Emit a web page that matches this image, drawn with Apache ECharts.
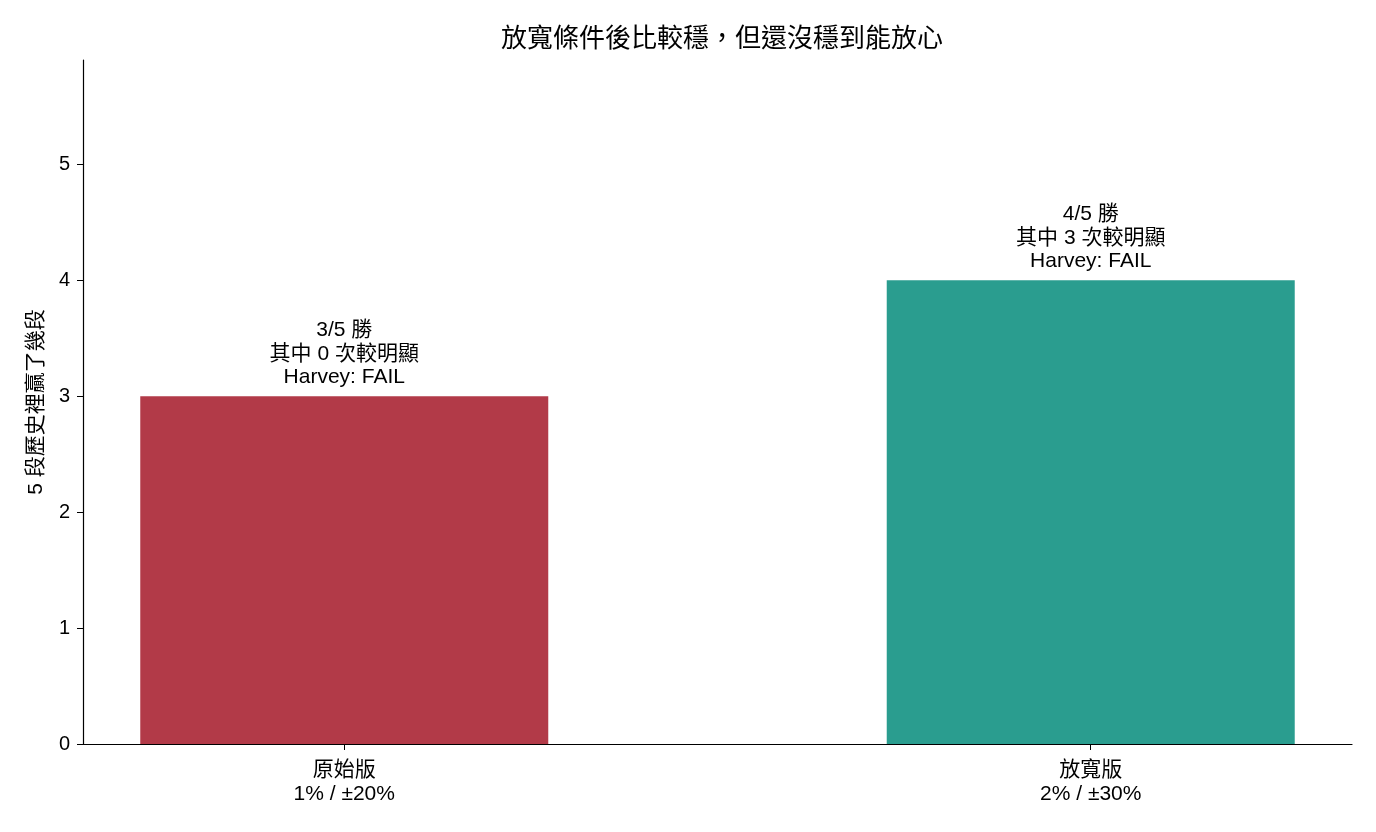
<!DOCTYPE html>
<html><head><meta charset="utf-8">
<script src="https://cdn.jsdelivr.net/npm/echarts@6/dist/echarts.min.js"></script>
<style>html,body{margin:0;padding:0;background:#fff}#c{width:1376px;height:832px}</style>
</head><body><div id="c"></div>
<script>
const title = '放寬條件後比較穩，但還沒穩到能放心';
const yAxisName = '5 段歷史裡贏了幾段';
const categories = ['原始版\n1% / ±20%', '放寬版\n2% / ±30%'];
const wins = [3, 4];
const barLabels = ['3/5 勝\n其中 0 次較明顯\nHarvey: FAIL', '4/5 勝\n其中 3 次較明顯\nHarvey: FAIL'];
const barColors = ['#b23a48', '#2a9d8f'];
const yTicks = [0, 1, 2, 3, 4, 5];

const font = "'Liberation Sans', Arial, 'Noto Sans CJK TC', sans-serif";
const chart = echarts.init(document.getElementById('c'), null, {renderer: 'canvas'});
chart.setOption({
  animation: false,
  textStyle: {fontFamily: font},
  title: {text: title, left: 717, textAlign: 'center', top: 22,
    textStyle: {fontFamily: font, fontSize: 26, fontWeight: 'normal', color: '#000'}},
  grid: {left: 83, right: 24, top: 60, bottom: 88, containLabel: false},
  xAxis: {
    type: 'value', min: -0.35, max: 1.35,
    splitLine: {show: false},
    axisLine: {show: true, onZero: false, lineStyle: {color: '#000', width: 1.2}},
    axisTick: {show: true, customValues: [0, 1], length: 6, lineStyle: {color: '#000'}},
    axisLabel: {customValues: [0, 1], color: '#000', fontSize: 21, lineHeight: 24, margin: 14,
      formatter: v => categories[Math.round(v)]}
  },
  yAxis: {
    type: 'value', min: 0, max: 5.9,
    name: yAxisName, nameLocation: 'middle', nameGap: 36,
    nameTextStyle: {color: '#000', fontSize: 21, fontFamily: font},
    splitLine: {show: false},
    axisLine: {show: true, onZero: false, lineStyle: {color: '#000', width: 1.2}},
    axisTick: {show: true, customValues: yTicks, length: 6, lineStyle: {color: '#000'}},
    axisLabel: {customValues: yTicks, color: '#000', fontSize: 20, margin: 13}
  },
  series: [{
    type: 'bar',
    barWidth: 408,
    data: wins.map((v, i) => ({value: [i, v], itemStyle: {color: barColors[i]},
      label: {formatter: barLabels[i]}})),
    label: {show: true, position: 'top', distance: 7, color: '#000', fontSize: 21, lineHeight: 23.5, fontFamily: font}
  }]
});
</script></body></html>
